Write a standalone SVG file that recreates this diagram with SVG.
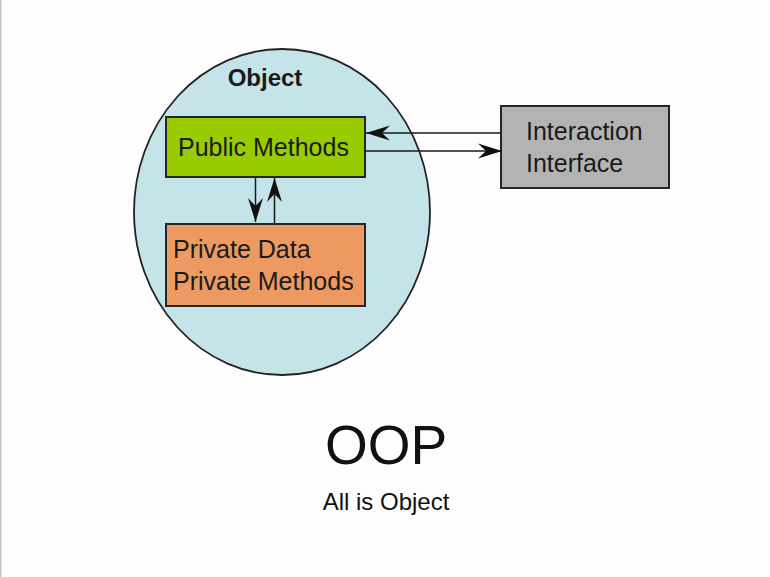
<svg xmlns="http://www.w3.org/2000/svg" width="770" height="577" viewBox="0 0 770 577">
<style>
.box{stroke:#262626;stroke-width:2}
.lbl{font-family:"Liberation Sans",Arial,sans-serif;font-size:25px;fill:#1a1a1a}
.conn{stroke:#1a1a1a;stroke-width:1.5;fill:none}
</style>
<defs>
<marker id="ah" markerUnits="userSpaceOnUse" viewBox="-26 -9 27 18" refX="0" refY="0" markerWidth="27" markerHeight="18" orient="auto">
<path d="M0,0 L-24,-7.5 L-16,0 L-24,7.5 Z" fill="#111"/>
</marker>
</defs>
<rect width="770" height="577" fill="#fdfdfd"/>
<rect x="0" y="0" width="1.5" height="577" fill="#c8c8c8"/>
<g id="object">
<ellipse cx="282" cy="212" rx="148" ry="163" fill="#c4e4ea" stroke="#222" stroke-width="1.8"/>
<text x="265" y="86" text-anchor="middle" font-family="Liberation Sans,Arial,sans-serif" font-weight="bold" font-size="24" fill="#1a1a1a">Object</text>
</g>
<g id="public-methods">
<rect class="box" x="166" y="117" width="199" height="60" fill="#99cc00"/>
<text class="lbl" x="178" y="156">Public Methods</text>
</g>
<g id="private">
<rect class="box" x="166" y="224" width="199" height="82" fill="#ec9a62"/>
<text class="lbl" x="173" y="258">Private Data</text>
<text class="lbl" x="173" y="290">Private Methods</text>
</g>
<g id="interaction-interface">
<rect class="box" x="501" y="106" width="168" height="82" fill="#b3b3b3"/>
<text class="lbl" x="526" y="140">Interaction</text>
<text class="lbl" x="526" y="172">Interface</text>
</g>
<g id="connectors">
<line class="conn" x1="500" y1="133" x2="366" y2="133" marker-end="url(#ah)"/>
<line class="conn" x1="366" y1="151" x2="502" y2="151" marker-end="url(#ah)"/>
<line class="conn" x1="255.5" y1="178" x2="255.5" y2="222" marker-end="url(#ah)"/>
<line class="conn" x1="274.5" y1="223" x2="274.5" y2="178" marker-end="url(#ah)"/>
</g>
<g id="caption">
<text x="386" y="464" text-anchor="middle" font-family="Liberation Sans,Arial,sans-serif" font-size="55" fill="#111">OOP</text>
<text x="386" y="510" text-anchor="middle" font-family="Liberation Sans,Arial,sans-serif" font-size="24" fill="#111">All is Object</text>
</g>
</svg>
